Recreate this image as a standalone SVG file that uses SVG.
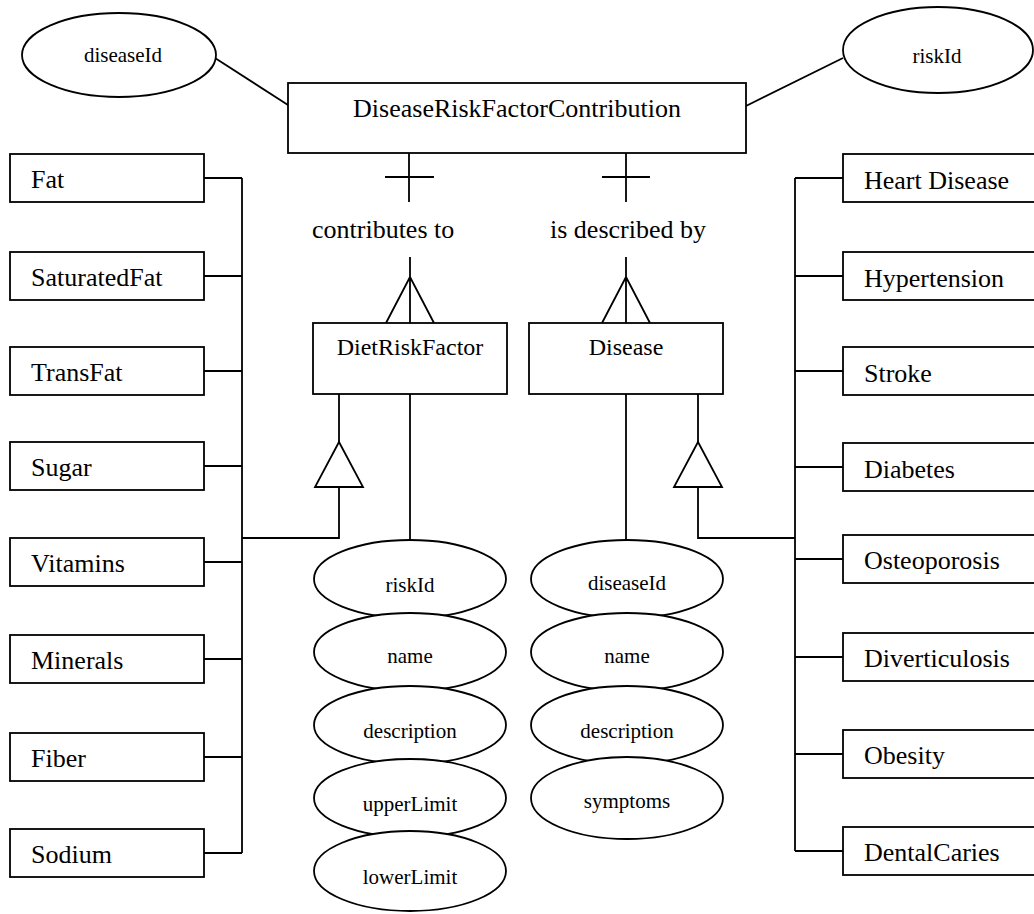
<svg xmlns="http://www.w3.org/2000/svg" width="1034" height="914" viewBox="0 0 1034 914">
<style>
.b{fill:#fff;stroke:#000;stroke-width:1.8}
.e{fill:#fff;stroke:#000;stroke-width:1.8}
.l{fill:none;stroke:#000;stroke-width:1.8}
text{font-family:"Liberation Serif","Times New Roman",serif;fill:#000}
.t26{font-size:26px}
.t24{font-size:24px;text-anchor:middle}
.t21{font-size:21px;text-anchor:middle}
</style>
<rect width="1034" height="914" fill="#fff"/>
<g id="connectors">
<path class="l" d="M215,58 L288,105"/>
<path class="l" d="M746,106 L843,58"/>
<path class="l" d="M409,153 V202 M385,177 H434"/>
<path class="l" d="M626,153 V202 M602,177 H650"/>
<path class="l" d="M410,257 V323 M386,323 L410,277 L434,323"/>
<path class="l" d="M626,257 V323 M602,323 L626,277 L650,323"/>
<path class="l" d="M410,394 V540"/>
<path class="l" d="M626,394 V540"/>
<path class="l" d="M339,394 V442 M339,487 V538 H242 M242,178 V853"/>
<path class="l" d="M204,178 H242 M204,276 H242 M204,371 H242 M204,466 H242 M204,562 H242 M204,659 H242 M204,757 H242 M204,853 H242"/>
<path class="l" d="M698,394 V442 M698,487 V538 H795 M795,178 V851"/>
<path class="l" d="M795,178 H843 M795,276 H843 M795,371 H843 M795,467 H843 M795,559 H843 M795,657 H843 M795,754 H843 M795,851 H843"/>
<polygon class="l" points="339,442 315,487 363,487"/>
<polygon class="l" points="698,442 674,487 722,487"/>
</g>
<g id="attr-diseaseId-top"><ellipse class="e" cx="119" cy="55" rx="97" ry="42"/><text class="t21" x="123" y="62">diseaseId</text></g>
<g id="attr-riskId-top"><ellipse class="e" cx="938" cy="50" rx="95" ry="43"/><text class="t21" x="937" y="63">riskId</text></g>
<g id="DiseaseRiskFactorContribution"><rect class="b" x="288" y="83" width="458" height="70"/><text class="t26" x="517" y="117" text-anchor="middle">DiseaseRiskFactorContribution</text></g>
<g id="label-contributes"><text class="t26" x="312" y="238">contributes to</text></g>
<g id="label-described"><text class="t26" x="550" y="238">is described by</text></g>
<g id="DietRiskFactor"><rect class="b" x="313" y="323" width="194" height="71"/><text class="t24" x="410" y="355">DietRiskFactor</text></g>
<g id="Disease"><rect class="b" x="529" y="323" width="194" height="71"/><text class="t24" x="626" y="355">Disease</text></g>
<g id="Fat"><rect class="b" x="10" y="154" width="194" height="48"/><text class="t26" x="31" y="188">Fat</text></g>
<g id="SaturatedFat"><rect class="b" x="10" y="252" width="194" height="48"/><text class="t26" x="31" y="286">SaturatedFat</text></g>
<g id="TransFat"><rect class="b" x="10" y="347" width="194" height="48"/><text class="t26" x="31" y="381">TransFat</text></g>
<g id="Sugar"><rect class="b" x="10" y="442" width="194" height="48"/><text class="t26" x="31" y="476">Sugar</text></g>
<g id="Vitamins"><rect class="b" x="10" y="538" width="194" height="48"/><text class="t26" x="31" y="572">Vitamins</text></g>
<g id="Minerals"><rect class="b" x="10" y="635" width="194" height="48"/><text class="t26" x="31" y="669">Minerals</text></g>
<g id="Fiber"><rect class="b" x="10" y="733" width="194" height="48"/><text class="t26" x="31" y="767">Fiber</text></g>
<g id="Sodium"><rect class="b" x="10" y="829" width="194" height="48"/><text class="t26" x="31" y="863">Sodium</text></g>
<g id="HeartDisease"><rect class="b" x="843" y="154" width="196" height="48"/><text class="t26" x="864" y="189">Heart Disease</text></g>
<g id="Hypertension"><rect class="b" x="843" y="252" width="196" height="48"/><text class="t26" x="864" y="287">Hypertension</text></g>
<g id="Stroke"><rect class="b" x="843" y="347" width="196" height="48"/><text class="t26" x="864" y="382">Stroke</text></g>
<g id="Diabetes"><rect class="b" x="843" y="443" width="196" height="48"/><text class="t26" x="864" y="478">Diabetes</text></g>
<g id="Osteoporosis"><rect class="b" x="843" y="535" width="196" height="48"/><text class="t26" x="864" y="569">Osteoporosis</text></g>
<g id="Diverticulosis"><rect class="b" x="843" y="633" width="196" height="48"/><text class="t26" x="864" y="667">Diverticulosis</text></g>
<g id="Obesity"><rect class="b" x="843" y="730" width="196" height="48"/><text class="t26" x="864" y="764">Obesity</text></g>
<g id="DentalCaries"><rect class="b" x="843" y="827" width="196" height="48"/><text class="t26" x="864" y="861">DentalCaries</text></g>
<g id="dr-riskId"><ellipse class="e" cx="410" cy="579" rx="96" ry="39"/><text class="t21" x="410" y="592">riskId</text></g>
<g id="dr-name"><ellipse class="e" cx="410" cy="652" rx="96" ry="39"/><text class="t21" x="410" y="663">name</text></g>
<g id="dr-description"><ellipse class="e" cx="410" cy="725" rx="96" ry="39"/><text class="t21" x="410" y="738">description</text></g>
<g id="dr-upperLimit"><ellipse class="e" cx="410" cy="798" rx="96" ry="39"/><text class="t21" x="410" y="811">upperLimit</text></g>
<g id="dr-lowerLimit"><ellipse class="e" cx="410" cy="871" rx="96" ry="40"/><text class="t21" x="410" y="884">lowerLimit</text></g>
<g id="d-diseaseId"><ellipse class="e" cx="627" cy="579" rx="96" ry="39"/><text class="t21" x="627" y="590">diseaseId</text></g>
<g id="d-name"><ellipse class="e" cx="627" cy="652" rx="96" ry="39"/><text class="t21" x="627" y="663">name</text></g>
<g id="d-description"><ellipse class="e" cx="627" cy="725" rx="96" ry="39"/><text class="t21" x="627" y="738">description</text></g>
<g id="d-symptoms"><ellipse class="e" cx="627" cy="798" rx="96" ry="41"/><text class="t21" x="627" y="808">symptoms</text></g>
</svg>
